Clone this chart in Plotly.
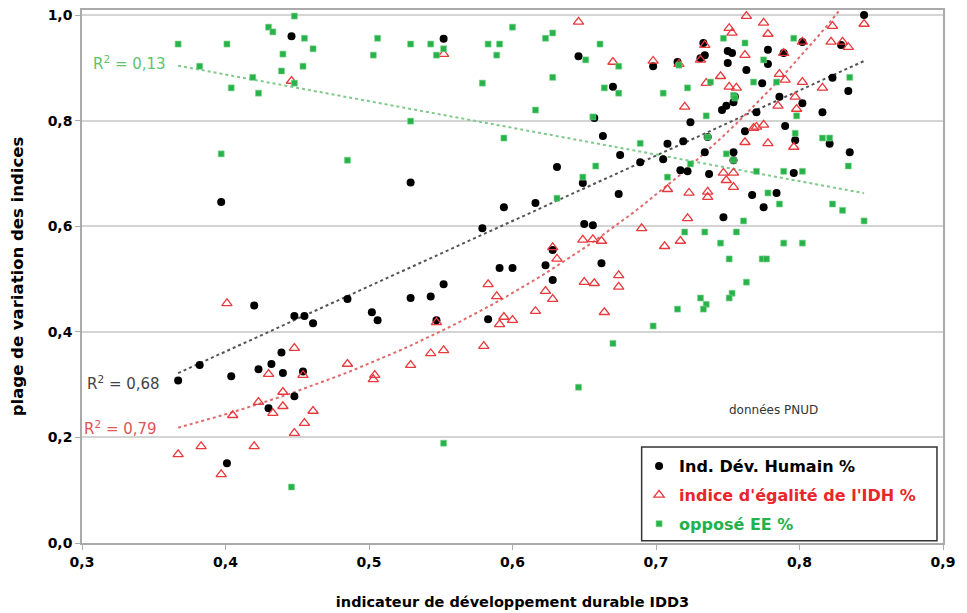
import numpy as np
import plotly.graph_objects as go

# ---------------- data ----------------
idh_x = [0.367, 0.382, 0.404, 0.397, 0.420, 0.448, 0.455, 0.461, 0.485, 0.439,
         0.432, 0.423, 0.440, 0.454, 0.430, 0.448, 0.401, 0.502, 0.506, 0.529,
         0.543, 0.552, 0.547, 0.579, 0.594, 0.616, 0.583, 0.591, 0.600, 0.623,
         0.628, 0.628, 0.650, 0.656, 0.662, 0.674, 0.552, 0.646, 0.670, 0.657,
         0.663, 0.631, 0.649, 0.689, 0.529, 0.446, 0.845, 0.733, 0.734, 0.731,
         0.698, 0.715, 0.750, 0.753, 0.750, 0.763, 0.778, 0.778, 0.789, 0.802,
         0.829, 0.823, 0.834, 0.774, 0.786, 0.802, 0.816, 0.770, 0.755, 0.754,
         0.749, 0.746, 0.724, 0.790, 0.762, 0.736, 0.797, 0.821, 0.708, 0.719,
         0.734, 0.754, 0.754, 0.835, 0.705, 0.675, 0.717, 0.722, 0.737, 0.796,
         0.767, 0.784, 0.775, 0.747]
idh_y = [0.308, 0.337, 0.316, 0.646, 0.450, 0.430, 0.430, 0.416, 0.462, 0.361,
         0.339, 0.329, 0.322, 0.325, 0.255, 0.278, 0.151, 0.437, 0.422, 0.464,
         0.467, 0.490, 0.422, 0.596, 0.636, 0.644, 0.424, 0.521, 0.521, 0.526,
         0.498, 0.555, 0.604, 0.602, 0.530, 0.661, 0.955, 0.922, 0.864, 0.805,
         0.771, 0.712, 0.682, 0.721, 0.683, 0.960, 1.000, 0.947, 0.924, 0.918,
         0.903, 0.911, 0.932, 0.928, 0.909, 0.896, 0.934, 0.907, 0.928, 0.949,
         0.943, 0.881, 0.856, 0.871, 0.845, 0.833, 0.816, 0.816, 0.845, 0.835,
         0.828, 0.820, 0.797, 0.790, 0.780, 0.769, 0.763, 0.756, 0.756, 0.761,
         0.740, 0.740, 0.725, 0.740, 0.727, 0.735, 0.706, 0.704, 0.699, 0.701,
         0.659, 0.663, 0.636, 0.617]

egal_x = [0.367, 0.383, 0.397, 0.420, 0.405, 0.423, 0.433, 0.440, 0.440, 0.448,
          0.455, 0.461, 0.401, 0.448, 0.430, 0.454, 0.485, 0.504, 0.503, 0.529,
          0.543, 0.552, 0.547, 0.580, 0.583, 0.589, 0.591, 0.594, 0.600, 0.616,
          0.623, 0.628, 0.628, 0.631, 0.650, 0.657, 0.664, 0.674, 0.674, 0.649,
          0.656, 0.662, 0.646, 0.670, 0.552, 0.446, 0.763, 0.775, 0.751, 0.753,
          0.778, 0.823, 0.822, 0.830, 0.834, 0.845, 0.802, 0.789, 0.762, 0.734,
          0.698, 0.731, 0.716, 0.745, 0.735, 0.786, 0.790, 0.802, 0.816, 0.751,
          0.756, 0.797, 0.785, 0.798, 0.720, 0.768, 0.770, 0.775, 0.762, 0.778,
          0.796, 0.747, 0.754, 0.749, 0.754, 0.708, 0.723, 0.736, 0.736, 0.722,
          0.690, 0.706, 0.717]
egal_y = [0.168, 0.183, 0.130, 0.183, 0.242, 0.267, 0.246, 0.259, 0.286, 0.208,
          0.227, 0.250, 0.454, 0.369, 0.320, 0.318, 0.339, 0.318, 0.310, 0.337,
          0.359, 0.365, 0.418, 0.373, 0.490, 0.467, 0.414, 0.428, 0.422, 0.439,
          0.477, 0.462, 0.560, 0.538, 0.494, 0.492, 0.437, 0.507, 0.485, 0.574,
          0.575, 0.572, 0.987, 0.911, 0.926, 0.875, 0.998, 0.985, 0.975, 0.966,
          0.964, 0.979, 0.949, 0.949, 0.939, 0.983, 0.949, 0.928, 0.924, 0.943,
          0.913, 0.915, 0.907, 0.884, 0.871, 0.888, 0.877, 0.873, 0.862, 0.864,
          0.862, 0.845, 0.828, 0.822, 0.826, 0.786, 0.788, 0.792, 0.759, 0.757,
          0.750, 0.701, 0.701, 0.687, 0.674, 0.670, 0.663, 0.665, 0.655, 0.615,
          0.596, 0.562, 0.572]

ee_x = [0.367, 0.401, 0.382, 0.430, 0.433, 0.448, 0.455, 0.461, 0.440, 0.454,
        0.439, 0.448, 0.419, 0.404, 0.423, 0.397, 0.485, 0.506, 0.503, 0.529,
        0.543, 0.547, 0.552, 0.583, 0.591, 0.589, 0.600, 0.623, 0.628, 0.661,
        0.651, 0.674, 0.579, 0.628, 0.664, 0.674, 0.616, 0.529, 0.656, 0.594,
        0.658, 0.649, 0.631, 0.689, 0.670, 0.646, 0.552, 0.446, 0.747, 0.762,
        0.796, 0.775, 0.716, 0.738, 0.768, 0.784, 0.835, 0.705, 0.722, 0.754,
        0.755, 0.735, 0.798, 0.797, 0.736, 0.816, 0.821, 0.749, 0.754, 0.724,
        0.708, 0.770, 0.789, 0.802, 0.834, 0.778, 0.786, 0.823, 0.830, 0.845,
        0.761, 0.720, 0.734, 0.756, 0.745, 0.789, 0.802, 0.751, 0.774, 0.777,
        0.763, 0.753, 0.751, 0.731, 0.735, 0.733, 0.715, 0.698]
ee_y = [0.945, 0.945, 0.903, 0.977, 0.968, 0.998, 0.956, 0.936, 0.926, 0.903,
        0.894, 0.871, 0.882, 0.862, 0.852, 0.737, 0.725, 0.956, 0.924, 0.945,
        0.945, 0.924, 0.936, 0.945, 0.945, 0.924, 0.977, 0.956, 0.966, 0.945,
        0.915, 0.903, 0.871, 0.882, 0.862, 0.852, 0.820, 0.799, 0.807, 0.767,
        0.714, 0.693, 0.653, 0.757, 0.378, 0.295, 0.189, 0.106, 0.956, 0.947,
        0.956, 0.915, 0.905, 0.873, 0.873, 0.873, 0.882, 0.852, 0.862, 0.848,
        0.843, 0.809, 0.809, 0.776, 0.769, 0.767, 0.767, 0.737, 0.725, 0.718,
        0.693, 0.704, 0.704, 0.704, 0.714, 0.663, 0.642, 0.642, 0.630, 0.610,
        0.610, 0.589, 0.589, 0.589, 0.568, 0.568, 0.568, 0.538, 0.538, 0.538,
        0.494, 0.473, 0.464, 0.464, 0.452, 0.443, 0.443, 0.411]

series_names = ["Ind. Dév. Humain %", "indice d'égalité de l'IDH %", "opposé EE %"]
r2_labels = ["R<sup>2</sup> = 0,68", "R<sup>2</sup> = 0,79", "R<sup>2</sup> = 0,13"]
x_ticks = [0.3, 0.4, 0.5, 0.6, 0.7, 0.8, 0.9]
y_ticks = [0.0, 0.2, 0.4, 0.6, 0.8, 1.0]

FONT = "Verdana, DejaVu Sans, sans-serif"
C_BLACK, C_RED, C_GREEN = "#000000", "#e8393d", "#27b34a"

fig = go.Figure()

# ---------------- trend lines (fitted from the data) ----------------
def lin_fit(xs, ys):
    xs, ys = np.asarray(xs), np.asarray(ys)
    a, b = np.polyfit(xs, ys, 1)
    xx = np.linspace(xs.min(), xs.max(), 60)
    return xx, a * xx + b

def exp_fit(xs, ys):
    xs, ys = np.asarray(xs), np.asarray(ys)
    a, b = np.polyfit(xs, np.log(ys), 1)
    xx = np.linspace(xs.min(), xs.max(), 60)
    return xx, np.exp(b) * np.exp(a * xx)

for (xx, yy), col in [(lin_fit(idh_x, idh_y), "#555555"),
                      (exp_fit(egal_x, egal_y), "#e06a6a"),
                      (lin_fit(ee_x, ee_y), "#7fc98a")]:
    fig.add_trace(go.Scatter(x=xx, y=yy, mode="lines", showlegend=False,
                             hoverinfo="skip",
                             line=dict(color=col, width=2, dash="dot")))

# ---------------- scatter series ----------------
fig.add_trace(go.Scatter(
    x=idh_x, y=idh_y, mode="markers", legendgroup="a",
    name="<span style='color:#000000'>" + series_names[0] + "</span>",
    marker=dict(symbol="circle", size=8, color=C_BLACK)))
fig.add_trace(go.Scatter(
    x=egal_x, y=egal_y, mode="markers", legendgroup="b",
    name="<span style='color:#e8262b'>" + series_names[1] + "</span>",
    marker=dict(symbol="triangle-up-open", size=9, color=C_RED,
                line=dict(width=1.3, color=C_RED))))
fig.add_trace(go.Scatter(
    x=ee_x, y=ee_y, mode="markers", legendgroup="c",
    name="<span style='color:#22b14c'>" + series_names[2] + "</span>",
    marker=dict(symbol="square", size=6, color=C_GREEN,
                line=dict(width=0.6, color="#7fd38f"))))

# ---------------- annotations ----------------
ann = [
    dict(x=0.302, y=0.303, text=r2_labels[0], font=dict(color="#444444", size=15)),
    dict(x=0.300, y=0.217, text=r2_labels[1], font=dict(color="#e05555", size=15)),
    dict(x=0.306, y=0.909, text=r2_labels[2], font=dict(color="#5cc46c", size=15)),
]
annotations = [dict(xref="x", yref="y", xanchor="left", yanchor="middle",
                    showarrow=False, font_family=FONT, **a) for a in ann]
annotations.append(dict(xref="x", yref="y", x=0.782, y=0.251, text="données PNUD",
                        showarrow=False, xanchor="center", yanchor="middle",
                        font=dict(family=FONT, size=12, color="#333333")))

# the page body has an 8px margin: the figure is sized/offset to compensate
fig.update_layout(
    width=959, height=605,
    margin=dict(l=74, r=24, t=2, b=70, autoexpand=False),
    paper_bgcolor="white", plot_bgcolor="white",
    separators=", ",
    font=dict(family=FONT, color="#000000"),
    annotations=annotations,
    shapes=[dict(type="rect", xref="paper", yref="paper",
                 x0=0.650, x1=0.993, y0=0.004, y1=0.180,
                 line=dict(color="#333333", width=1.5),
                 fillcolor="white", layer="above")],
    legend=dict(x=0.647, y=0.176, xanchor="left", yanchor="top",
                bgcolor="rgba(0,0,0,0)", borderwidth=0,
                font=dict(family=FONT, size=16, weight="bold"),
                tracegroupgap=5),
    xaxis=dict(range=[0.3, 0.9], tickvals=x_ticks, tickformat=".1f",
               showgrid=False, zeroline=False, automargin=True,
               showline=True, linecolor="#aaaaaa", linewidth=1.5, mirror=True,
               ticks="outside", ticklen=5, tickcolor="#aaaaaa",
               ticklabeloverflow="allow",
               tickfont=dict(family=FONT, size=14, weight="bold"),
               title=dict(text="indicateur de développement durable IDD3",
                          font=dict(family=FONT, size=14.5, weight="bold"),
                          standoff=28)),
    yaxis=dict(range=[0, 1.0095], tickvals=y_ticks, tickformat=".1f",
               showgrid=True, gridcolor="#d4d4d4", gridwidth=1.5, zeroline=False,
               automargin=True,
               showline=True, linecolor="#aaaaaa", linewidth=1.5, mirror=True,
               ticks="outside", ticklen=5, tickcolor="#aaaaaa",
               ticklabeloverflow="allow",
               tickfont=dict(family=FONT, size=14, weight="bold"),
               title=dict(text="plage de variation des indices",
                          font=dict(family=FONT, size=16.5, weight="bold"),
                          standoff=21)),
)

fig.write_html("out.html")
